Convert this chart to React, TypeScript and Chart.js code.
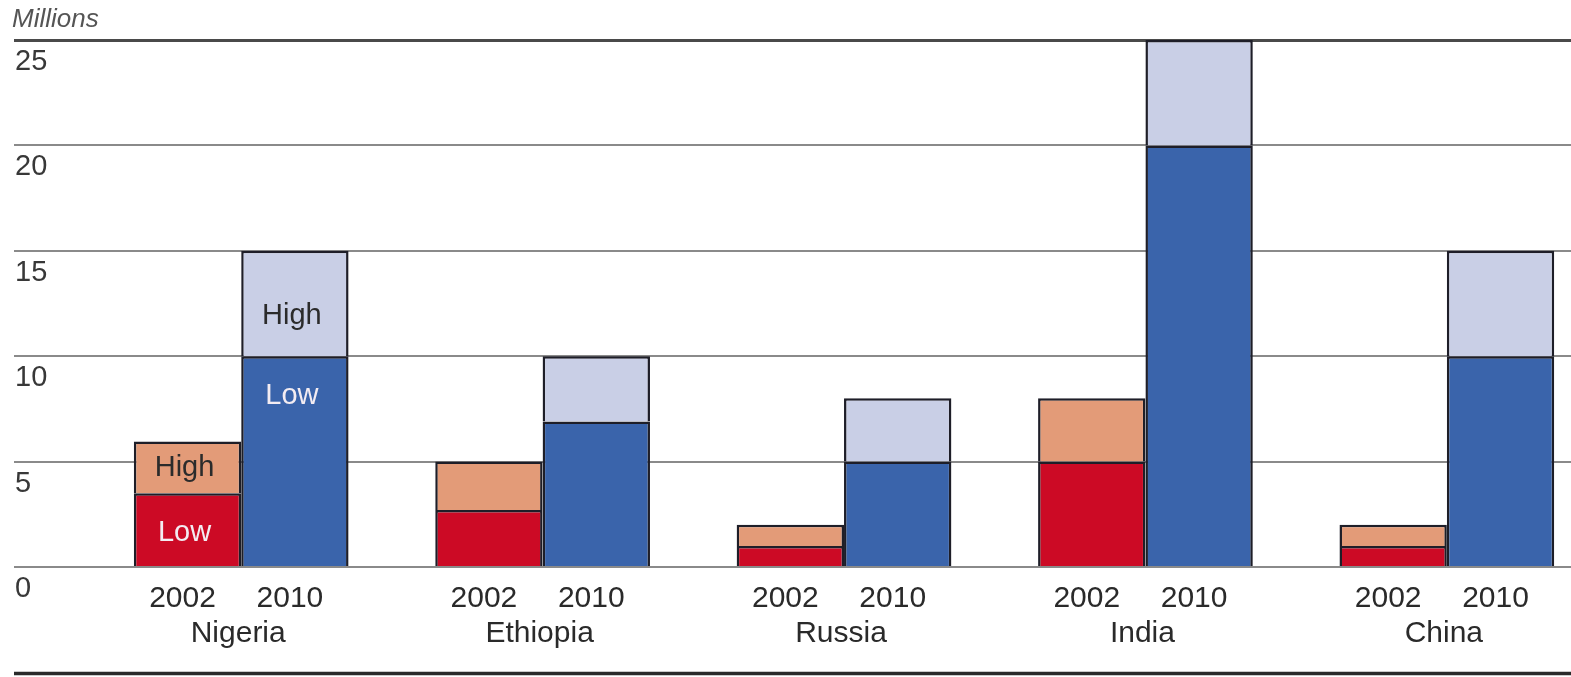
import React, { useEffect, useRef } from 'react';
import { Chart, registerables } from 'chart.js';

Chart.register(...registerables);

// ---- data ----
const countries = ['Nigeria', 'Ethiopia', 'Russia', 'India', 'China'];
const years = ['2002', '2010'];
const low2002 = [3.5, 2.7, 1.0, 5.0, 1.0];
const high2002 = [2.45, 2.3, 1.0, 3.0, 1.0];
const low2010 = [10, 6.9, 5.0, 20, 10];
const high2010 = [5, 3.1, 3.0, 5, 5];
const yTickValues = [0, 5, 10, 15, 20, 25];
const segmentNames = ['Low', 'High'];
const annotatedCountry = 'Nigeria';
const unitLabel = 'Millions';

const FONT = 'Arial, "Liberation Sans", Helvetica, sans-serif';
const W = 1571;
const H = 677;

const COLORS = {
  low2002: '#cc0a25',
  high2002: '#e39b78',
  low2010: '#3a64ab',
  high2010: '#c9cfe6',
  border: '#1e1e28',
  text: '#2a2a2a',
};

const annotatePlugin = {
  id: 'annotateBars',
  afterDatasetsDraw(chart: any) {
    const ctx = chart.ctx;
    const area = chart.chartArea;
    const xs = chart.scales.x;
    ctx.save();
    ctx.textAlign = 'center';
    ctx.textBaseline = 'middle';
    // year labels under each bar
    ctx.font = `30px ${FONT}`;
    ctx.fillStyle = COLORS.text;
    [0, 2].forEach((dsIndex, yi) => {
      const meta = chart.getDatasetMeta(dsIndex);
      meta.data.forEach((el: any) => {
        ctx.fillText(years[yi], el.x - 5, area.bottom + 32);
      });
    });
    // country labels
    countries.forEach((c, i) => {
      ctx.fillText(c, xs.getPixelForValue(i) - 3, area.bottom + 67);
    });
    // Low / High labels inside the annotated country's bars
    ctx.font = `29px ${FONT}`;
    const ci = countries.indexOf(annotatedCountry);
    for (let d = 0; d < 4; d++) {
      const meta = chart.getDatasetMeta(d);
      const el: any = meta.data[ci];
      if (!el) continue;
      const isLow = d % 2 === 0;
      const top = Math.min(el.y, el.base);
      const bottom = Math.max(el.y, el.base);
      const y = isLow ? top + 40 : top + (bottom - top) * (d === 1 ? 0.52 : 0.62);
      ctx.fillStyle = isLow ? '#f3ecf2' : '#2b2b2b';
      ctx.fillText(segmentNames[isLow ? 0 : 1], el.x - 3, y);
    }
    ctx.restore();
  },
  afterDraw(chart: any) {
    const ctx = chart.ctx;
    const area = chart.chartArea;
    ctx.save();
    ctx.strokeStyle = '#2a2a2a';
    ctx.lineWidth = 3.5;
    ctx.beginPath();
    ctx.moveTo(area.left, H - 3.5);
    ctx.lineTo(chart.width, H - 3.5);
    ctx.stroke();
    ctx.restore();
  },
};

export default function App() {
  const ref = useRef<HTMLCanvasElement | null>(null);

  useEffect(() => {
    document.body.style.margin = '0';
    const canvas = ref.current;
    if (!canvas) return;

    const mk = (vals: number[]) => vals.map((v, i) => ({ x: i, y: v }));

    const common = {
      borderColor: COLORS.border,
      borderWidth: 2.5,
      categoryPercentage: 0.7124,
      barPercentage: 1.0,
    };

    const chart = new Chart(canvas, {
      type: 'bar',
      data: {
        datasets: [
          { ...common, label: 'Low 2002', data: mk(low2002), backgroundColor: COLORS.low2002, stack: years[0] },
          { ...common, label: 'High 2002', data: mk(high2002), backgroundColor: COLORS.high2002, stack: years[0] },
          { ...common, label: 'Low 2010', data: mk(low2010), backgroundColor: COLORS.low2010, stack: years[1] },
          { ...common, label: 'High 2010', data: mk(high2010), backgroundColor: COLORS.high2010, stack: years[1] },
        ],
      },
      options: {
        responsive: false,
        animation: false,
        layout: { padding: { left: 12, right: 0, top: 0, bottom: 110 } },
        plugins: {
          legend: { display: false },
          tooltip: { enabled: false },
          title: {
            display: true,
            text: unitLabel,
            align: 'start',
            color: '#555555',
            font: { family: FONT, size: 26, style: 'italic', weight: 'normal' },
            padding: { top: 4, bottom: 4.8 },
          },
        },
        scales: {
          x: {
            type: 'linear',
            display: false,
            offset: false,
            min: -0.7538,
            max: 4.4119,
            grid: { display: false, drawTicks: false },
            afterBuildTicks: (axis: any) => {
              axis.ticks = countries.map((_, i) => ({ value: i }));
            },
          },
          y: {
            stacked: true,
            min: 0,
            max: 25,
            afterBuildTicks: (axis: any) => {
              axis.ticks = yTickValues.map((v) => ({ value: v }));
            },
            grid: {
              drawTicks: false,
              color: (c: any) => (c.tick && c.tick.value === 25 ? '#4a4a4a' : '#8a8a8a'),
              lineWidth: (c: any) => (c.tick && c.tick.value === 25 ? 3 : 2),
            },
            border: { display: false },
            ticks: {
              mirror: true,
              padding: 1,
              labelOffset: 22,
              color: '#383838',
              font: { family: FONT, size: 29 },
            },
          },
        },
      },
      plugins: [annotatePlugin],
    } as any);

    return () => chart.destroy();
  }, []);

  return (
    <div style={{ width: W, height: H }}>
      <canvas ref={ref} width={W} height={H} style={{ display: 'block' }} />
    </div>
  );
}
